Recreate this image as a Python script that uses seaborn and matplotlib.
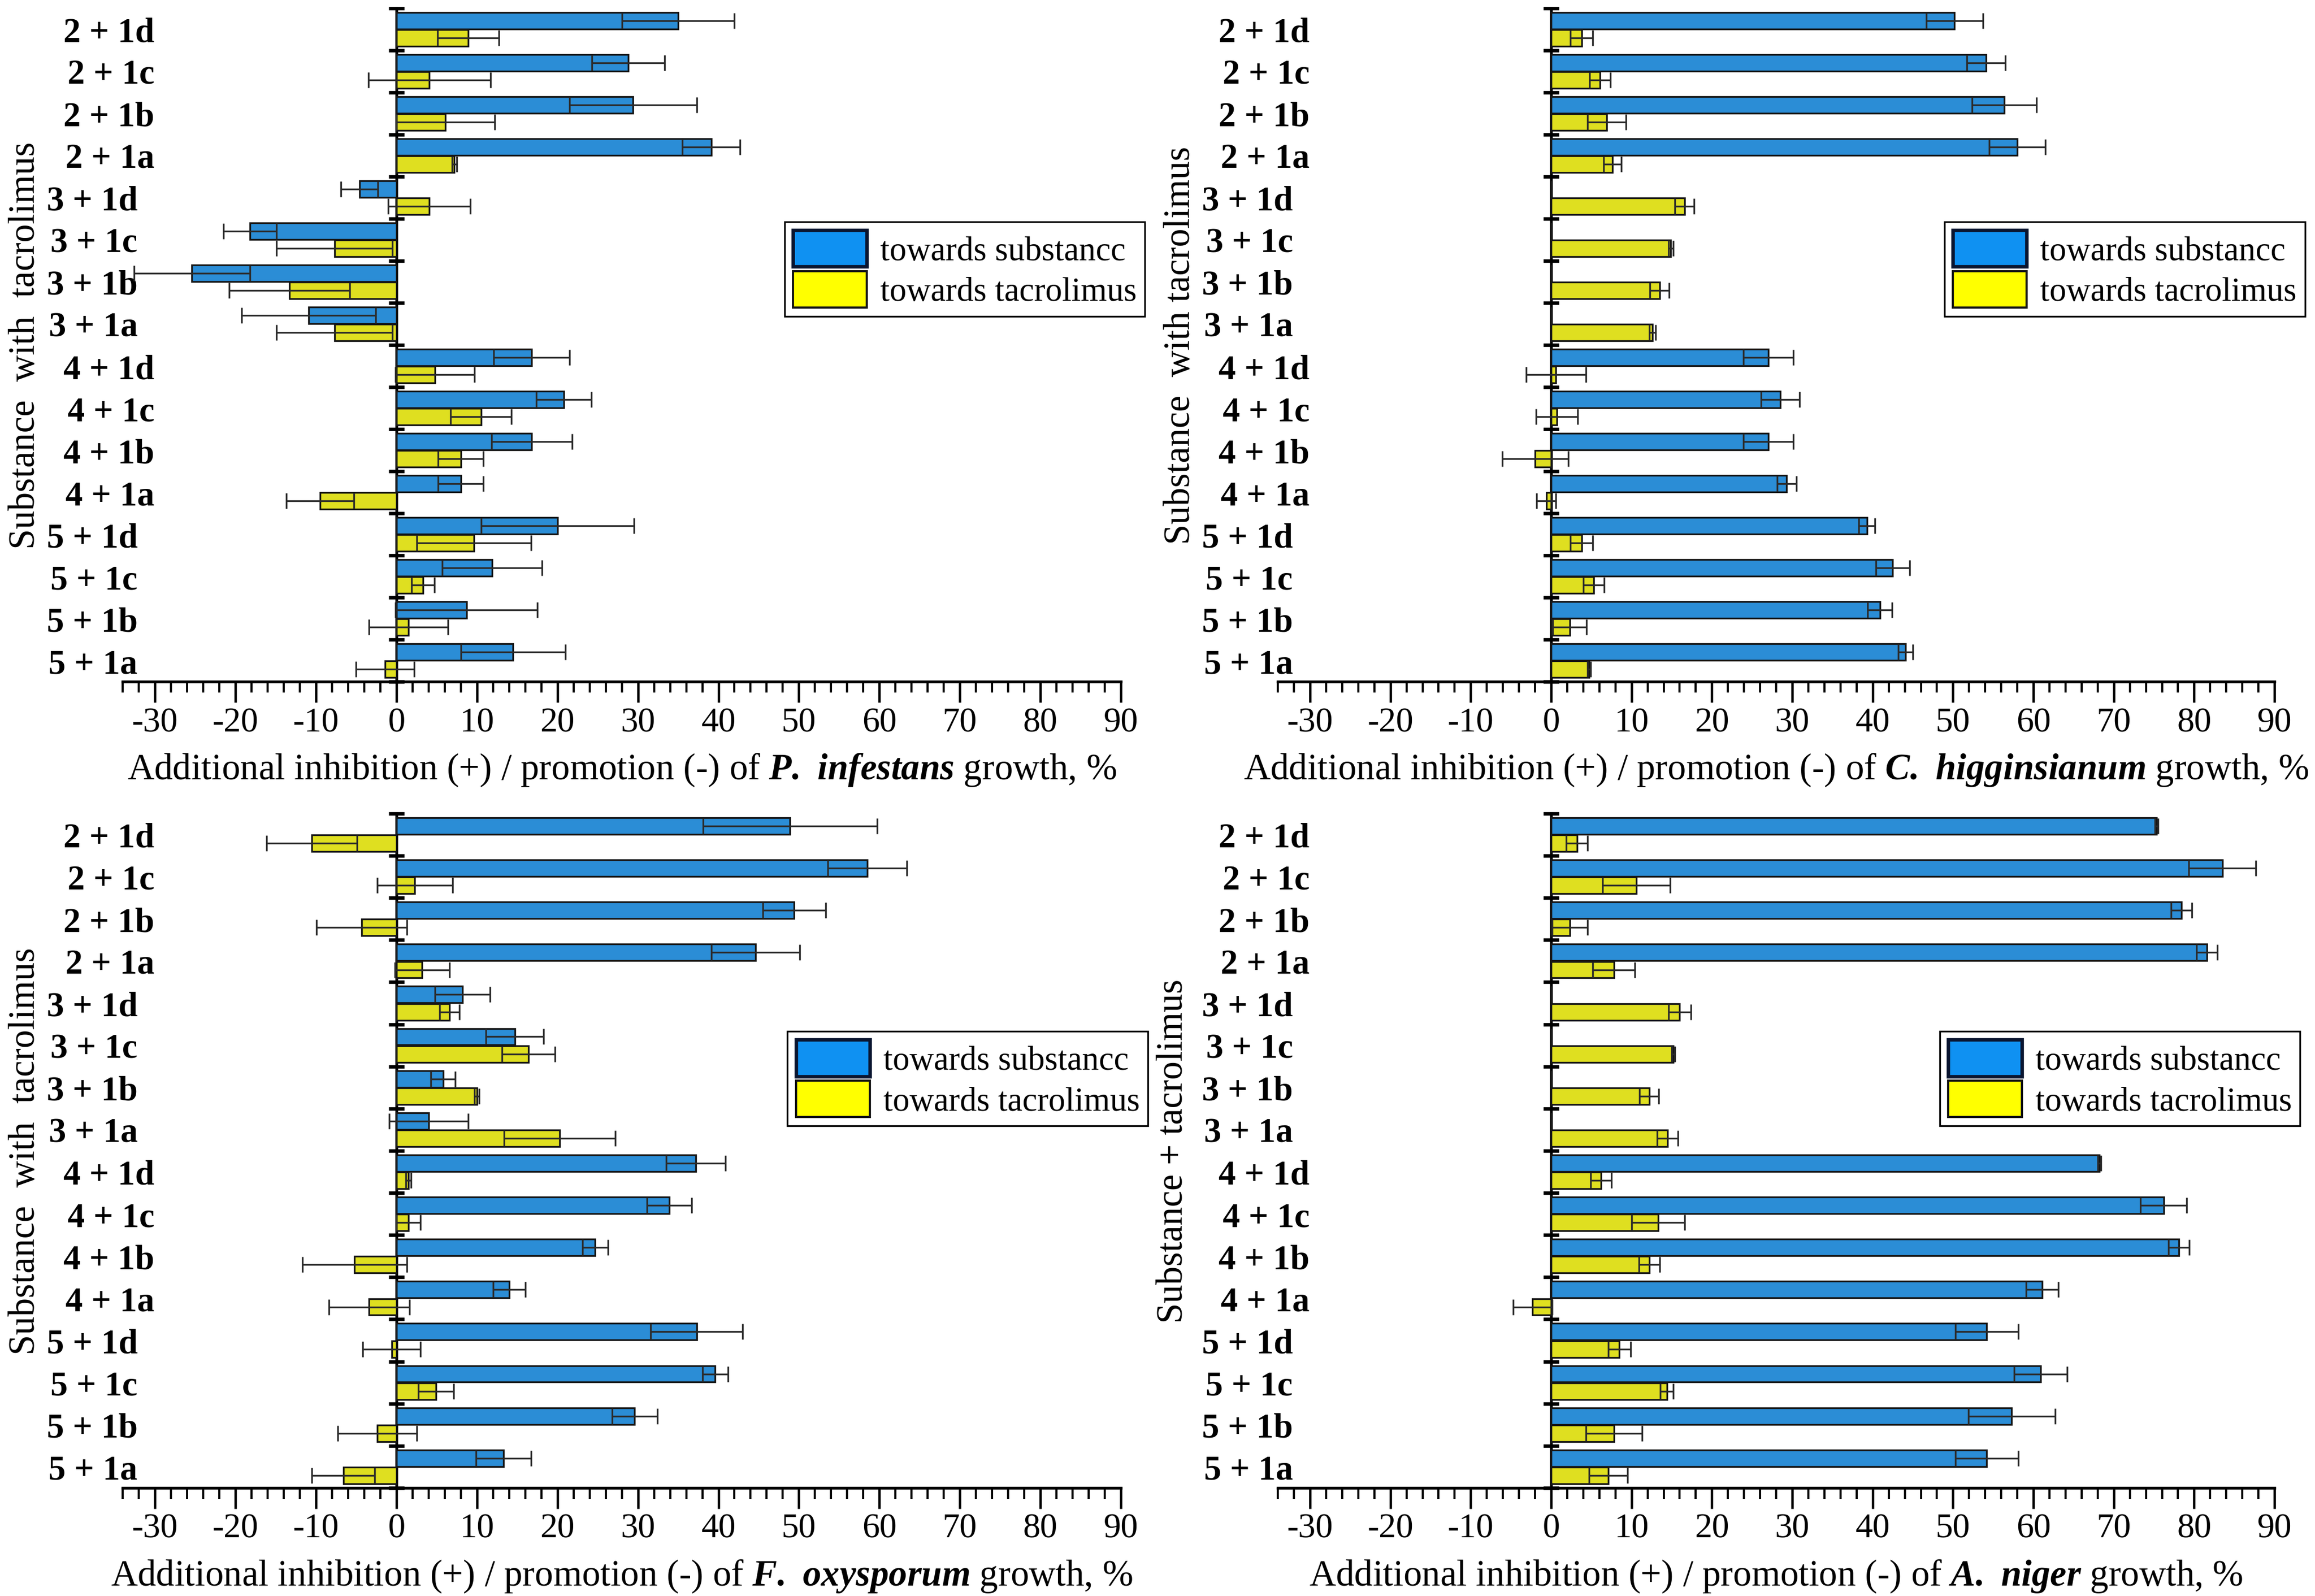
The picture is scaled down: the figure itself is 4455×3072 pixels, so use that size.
import numpy as np
import pandas as pd
import matplotlib
matplotlib.use('Agg')
import matplotlib.pyplot as plt
import seaborn as sns
from matplotlib.ticker import MultipleLocator, FixedLocator
from matplotlib.transforms import ScaledTranslation
from matplotlib.patches import Patch

combos = ['2 + 1d', '2 + 1c', '2 + 1b', '2 + 1a',
          '3 + 1d', '3 + 1c', '3 + 1b', '3 + 1a',
          '4 + 1d', '4 + 1c', '4 + 1b', '4 + 1a',
          '5 + 1d', '5 + 1c', '5 + 1b', '5 + 1a']
series = ['towards substancc', 'towards tacrolimus']
nan = np.nan

# P. infestans
pinf_sub = [35.0, 28.8, 29.4, 39.1, -4.6, -18.2, -25.4, -10.9,
            16.8, 20.8, 16.8, 8.0, 20.0, 11.9, 8.7, 14.5]
pinf_sub_err = [7.0, 4.5, 7.9, 3.6, 2.3, 3.3, 7.2, 8.3,
                4.7, 3.4, 5.0, 2.8, 9.5, 6.2, 8.8, 6.5]
pinf_tac = [8.9, 4.1, 6.1, 7.2, 4.1, -7.7, -13.3, -7.7,
            4.8, 10.5, 8.0, -9.5, 9.6, 3.3, 1.5, -1.4]
pinf_tac_err = [3.8, 7.6, 6.1, 0.3, 5.1, 7.2, 7.5, 7.2,
                4.9, 3.8, 2.8, 4.2, 7.1, 1.4, 4.9, 3.6]

# C. higginsianum
chig_sub = [50.2, 54.1, 56.4, 58.0, 0.0, 0.0, 0.0, 0.0,
            27.0, 28.5, 27.0, 29.3, 39.3, 42.5, 40.9, 44.1]
chig_sub_err = [3.5, 2.4, 4.0, 3.5, nan, nan, nan, nan,
                3.1, 2.4, 3.1, 1.2, 1.0, 2.1, 1.5, 0.9]
chig_tac = [3.8, 6.1, 6.9, 7.6, 16.6, 14.9, 13.5, 12.6,
            0.6, 0.7, -2.0, -0.6, 3.8, 5.3, 2.3, 4.7]
chig_tac_err = [1.4, 1.3, 2.4, 1.1, 1.2, 0.3, 1.2, 0.4,
                3.7, 2.6, 4.1, 1.2, 1.4, 1.3, 2.1, 0.2]

# F. oxysporum
foxy_sub = [48.9, 58.5, 49.4, 44.6, 8.2, 14.7, 5.8, 4.0,
            37.2, 33.9, 24.7, 14.0, 37.3, 39.6, 29.6, 13.3]
foxy_sub_err = [10.8, 4.9, 3.9, 5.5, 3.4, 3.6, 1.5, 4.9,
                3.7, 2.8, 1.6, 2.0, 5.7, 1.6, 2.8, 3.4]
foxy_tac = [-10.5, 2.3, -4.3, 3.2, 6.6, 16.4, 10.0, 20.3,
            1.5, 1.5, -5.2, -3.4, -0.6, 4.9, -2.4, -6.6]
foxy_tac_err = [5.6, 4.7, 5.6, 3.4, 1.2, 3.3, 0.3, 6.9,
                0.3, 1.5, 6.5, 5.0, 3.6, 2.2, 4.9, 3.9]

# A. niger
anig_sub = [75.3, 83.5, 78.4, 81.6, 0.0, 0.0, 0.0, 0.0,
            68.2, 76.2, 78.1, 61.1, 54.2, 60.9, 57.3, 54.2]
anig_sub_err = [0.2, 4.2, 1.3, 1.3, nan, nan, nan, nan,
                0.2, 2.9, 1.3, 2.0, 3.9, 3.3, 5.4, 3.9]
anig_tac = [3.2, 10.6, 2.3, 7.8, 16.0, 15.2, 12.2, 14.5,
            6.2, 13.3, 12.2, -2.3, 8.5, 14.4, 7.8, 7.1]
anig_tac_err = [1.3, 4.2, 2.2, 2.6, 1.4, 0.2, 1.2, 1.3,
                1.3, 3.3, 1.3, 2.4, 1.4, 0.8, 3.5, 2.4]

BLUE = '#0f91f2'
YELLOW = '#ffff00'

sns.set_style('ticks')
plt.rcParams['font.family'] = ['Liberation Serif', 'DejaVu Serif']
plt.rcParams['mathtext.fontset'] = 'custom'
plt.rcParams['mathtext.rm'] = 'Liberation Serif'
plt.rcParams['mathtext.bf'] = 'Liberation Serif:bold:italic'
plt.rcParams['axes.unicode_minus'] = False
for k in ['text.color', 'axes.labelcolor', 'xtick.color', 'ytick.color', 'axes.edgecolor']:
    plt.rcParams[k] = 'black'

fig = plt.figure(figsize=(14.85, 10.2433), dpi=300)

panels = [
    (('P.', 'infestans'), pinf_sub, pinf_sub_err, pinf_tac, pinf_tac_err,
     'Substance  with  tacrolimus', [0.0530, 0.5727, 0.4312, 0.4218], 0.663, 0.683, -0.081),
    (('C.', 'higginsianum'), chig_sub, chig_sub_err, chig_tac, chig_tac_err,
     'Substance  with tacrolimus', [0.5520, 0.5727, 0.4305, 0.4218], 0.669, 0.683, -0.081),
    (('F.', 'oxysporum'), foxy_sub, foxy_sub_err, foxy_tac, foxy_tac_err,
     'Substance  with  tacrolimus', [0.0530, 0.0677, 0.4312, 0.4224], 0.666, 0.677, -0.081),
    (('A.', 'niger'), anig_sub, anig_sub_err, anig_tac, anig_tac_err,
     'Substance + tacrolimus', [0.5520, 0.0677, 0.4305, 0.4224], 0.664, 0.677, -0.088),
]

xmin, xmax = -34, 90

for name, sub, sub_err, tac, tac_err, ylab, rect, lx, ly, ylx in panels:
    ax = fig.add_axes(rect)
    df = pd.DataFrame({
        'combo': combos * 2,
        'series': np.repeat(series, len(combos)),
        'value': sub + tac,
    })
    sns.barplot(data=df, x='value', y='combo', hue='series', order=combos,
                hue_order=series, palette=dict(zip(series, [BLUE, YELLOW])),
                orient='h', width=0.82, gap=0.04, errorbar=None,
                edgecolor='#151515', linewidth=0.8, legend=False, ax=ax)

    # error bars placed on the drawn bars
    for cont, vals, errs in zip(ax.containers, [sub, tac], [sub_err, tac_err]):
        xs, ys, es = [], [], []
        for patch, v, e in zip(cont.patches, vals, errs):
            if np.isnan(e):
                continue
            xs.append(v)
            ys.append(patch.get_y() + patch.get_height() / 2)
            es.append(e)
        ax.errorbar(xs, ys, xerr=es, fmt='none', ecolor='#2b2b2b',
                    elinewidth=0.8, capsize=3.6, capthick=0.8, zorder=4)

    ax.set_xlim(xmin, xmax)
    ax.set_ylim(len(combos) - 0.5, -0.5)
    ax.xaxis.set_major_locator(MultipleLocator(10))
    ax.xaxis.set_minor_locator(MultipleLocator(2))
    ax.tick_params(axis='x', which='major', direction='out', length=9.5,
                   width=1.1, labelsize=16, pad=2)
    ax.tick_params(axis='x', which='minor', direction='out', length=5, width=1.0)
    ax.tick_params(axis='y', length=0, pad=-14.6, labelsize=16)
    for lbl in ax.get_yticklabels():
        lbl.set_fontweight('bold')
    for s in ['left', 'top', 'right']:
        ax.spines[s].set_visible(False)
    ax.spines['bottom'].set_linewidth(1.3)

    genus, species = name
    ax.set_xlabel('Additional inhibition (+) / promotion (-) of $\\mathbf{%s}$ $\\mathbf{%s}$ growth, %%'
                  % (genus, species), fontsize=17, labelpad=6)
    ax.set_ylabel(ylab, fontsize=17)
    ax.yaxis.set_label_coords(ylx, 0.5)

    # vertical axis line at x = 0 with ticks between categories
    sec = ax.secondary_yaxis((0 - xmin) / (xmax - xmin))
    sec.yaxis.set_major_locator(FixedLocator(np.arange(-0.5, len(combos), 1.0)))
    sec.tick_params(axis='y', direction='inout', length=7, width=1.6,
                    labelleft=False, labelright=False)
    for sp in sec.spines.values():
        sp.set_linewidth(1.3)

    handles = [Patch(facecolor=BLUE, edgecolor='#0a1530', linewidth=1.6),
               Patch(facecolor=YELLOW, edgecolor='#151515', linewidth=1.0)]
    leg = ax.legend(handles, series, loc='upper left', bbox_to_anchor=(lx, ly),
                    frameon=True, fancybox=False, edgecolor='black', framealpha=1,
                    fontsize=15.5, handlelength=2.2, handleheight=1.3,
                    labelspacing=0.12, borderpad=0.25, handletextpad=0.4,
                    borderaxespad=0)
    leg.get_frame().set_linewidth(0.8)

    # groups 3 and 5 sit a little further left
    for lbl in ax.get_yticklabels():
        if lbl.get_text()[0] in '35':
            lbl.set_transform(lbl.get_transform() +
                              ScaledTranslation(-7.7 / 72, 0, fig.dpi_scale_trans))

fig.savefig('out.png', dpi=300)
